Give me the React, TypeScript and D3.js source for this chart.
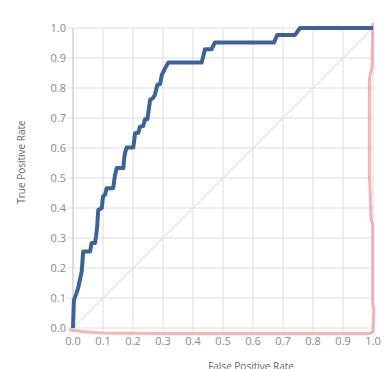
import React from "react";
import * as d3 from "d3";

const rocFpr = [0, 0.003, 0.012, 0.017, 0.023, 0.029, 0.034, 0.057, 0.062, 0.073, 0.077, 0.081, 0.084, 0.096, 0.1, 0.107, 0.112, 0.134, 0.14, 0.146, 0.168, 0.17, 0.173, 0.179, 0.201, 0.207, 0.218, 0.223, 0.234, 0.24, 0.248, 0.257, 0.266, 0.273, 0.281, 0.29, 0.296, 0.307, 0.318, 0.429, 0.44, 0.462, 0.473, 0.67, 0.681, 0.74, 0.757, 1.0];
const rocTpr = [0, 0.093, 0.117, 0.133, 0.16, 0.188, 0.255, 0.255, 0.283, 0.283, 0.305, 0.343, 0.393, 0.4, 0.438, 0.444, 0.466, 0.466, 0.51, 0.533, 0.533, 0.56, 0.582, 0.602, 0.602, 0.649, 0.651, 0.671, 0.673, 0.696, 0.696, 0.76, 0.766, 0.777, 0.81, 0.813, 0.843, 0.866, 0.885, 0.885, 0.929, 0.929, 0.952, 0.952, 0.977, 0.977, 1.0, 1.0];

const altFpr = [-0.013, 0.03, 0.07, 0.1, 0.3, 0.5, 0.7, 0.9, 0.99, 1.0, 1.003, 0.999, 0.999, 0.993, 0.99, 0.988, 0.988, 0.992, 0.997, 0.999, 0.999];
const altTpr = [-0.006, -0.012, -0.015, -0.017, -0.018, -0.018, -0.018, -0.018, -0.018, -0.012, 0.06, 0.08, 0.34, 0.37, 0.47, 0.5, 0.83, 0.85, 0.87, 1.0, 1.017];

const ticks = [0, 0.1, 0.2, 0.3, 0.4, 0.5, 0.6, 0.7, 0.8, 0.9, 1.0];
const xTitle = "False Positive Rate";
const yTitle = "True Positive Rate";

const W = 391, H = 369;
const L = 73, T = 28, S = 300;

export default function App() {
  const x = d3.scaleLinear().domain([0, 1]).range([L, L + S]);
  const y = d3.scaleLinear().domain([0, 1]).range([T + S, T]);
  const roc = rocFpr.map((f, i) => [f, rocTpr[i]] as [number, number]);
  const alt = altFpr.map((f, i) => [f, altTpr[i]] as [number, number]);
  const line = d3.line<[number, number]>().x(d => x(d[0])).y(d => y(d[1]));
  const font = "'Open Sans', sans-serif";
  return (
    <svg width={W} height={H} style={{ position: "absolute", left: 0, top: 0 }} fontFamily={font}>
      <rect width={W} height={H} fill="#fff" />
      {ticks.map((t, i) => (
        <g key={"g" + i}>
          <line x1={x(t)} x2={x(t)} y1={T} y2={T + S + 5} stroke="#dddddd" strokeWidth={1} />
          <line x1={L - 6} x2={L + S} y1={y(t)} y2={y(t)} stroke="#dddddd" strokeWidth={1} />
          <text x={x(t)} y={T + S + 17} textAnchor="middle" fontSize={11} fill="#888">{t.toFixed(1)}</text>
          <text x={L - 7} y={y(t)} dy="0.35em" textAnchor="end" fontSize={11} fill="#888">{t.toFixed(1)}</text>
        </g>
      ))}
      <line x1={L} x2={L} y1={T} y2={T + S} stroke="#cccccc" />
      <line x1={x(0)} y1={y(0)} x2={x(1)} y2={y(1)} stroke="#e3e3e3" strokeWidth={1.2} />
      <path d={line(alt) || ""} fill="none" stroke="#f08a96" strokeOpacity={0.65} strokeWidth={3} strokeLinejoin="round" />
      <path d={line(roc) || ""} fill="none" stroke="#3c6399" strokeWidth={4} strokeLinejoin="round" />
      <text x={251} y={370} textAnchor="middle" fontSize={10} fill="#666">{xTitle}</text>
      <text transform={`translate(25,162) rotate(-90)`} textAnchor="middle" fontSize={10} fill="#666">{yTitle}</text>
    </svg>
  );
}
